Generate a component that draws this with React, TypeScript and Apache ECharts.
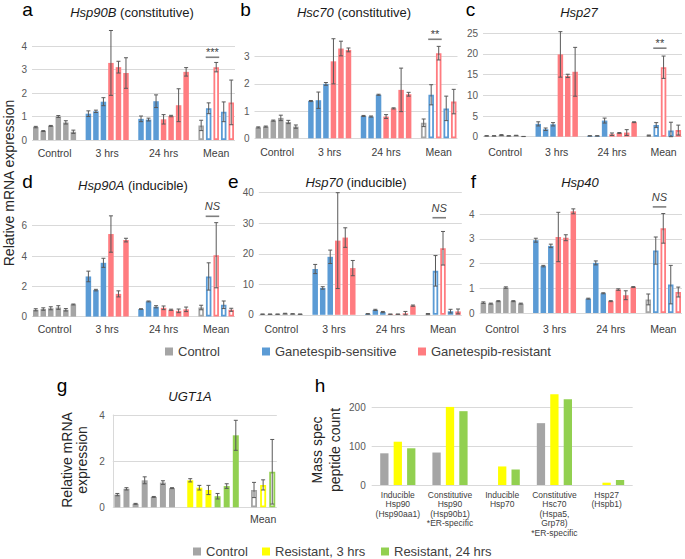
import React, { useEffect, useRef } from "react";
import * as echarts from "echarts";

// ---------------- DATA ----------------
// Panels a–f: bar order = Control (6) | Sensitive 3 h (3), 24 h (3) | Resistant 3 h (3), 24 h (4) | Mean (5)
const groupLabels = ["Control", "3 hrs", "24 hrs", "Mean"];
const meanLabel = "Mean";

// a  Hsp90B
const hsp90bControl = [0.55, 0.38, 0.6, 1.0, 0.75, 0.35];
const hsp90bControlErr = [0.03, 0.02, 0.02, 0.04, 0.07, 0.07];
const hsp90bSensitive = [1.12, 1.22, 1.63, 0.9, 0.87, 1.65];
const hsp90bSensitiveErr = [0.12, 0.05, 0.17, 0.12, 0.06, 0.27];
const hsp90bResistant = [3.28, 3.1, 2.85, 0.88, 1.02, 1.48, 2.9];
const hsp90bResistantErr = [1.38, 0.25, 0.65, 0.2, 0.03, 0.7, 0.18];
const hsp90bMean = [0.62, 1.35, 3.1, 1.2, 1.6];
const hsp90bMeanErr = [0.22, 0.23, 0.2, 0.42, 0.95];

// b  Hsc70
const hsc70Control = [0.4, 0.43, 0.65, 0.75, 0.6, 0.43];
const hsc70ControlErr = [0.02, 0.02, 0.02, 0.1, 0.06, 0.06];
const hsc70Sensitive = [1.37, 1.4, 2.0, 0.82, 0.8, 1.6];
const hsc70SensitiveErr = [0.02, 0.3, 0.05, 0.02, 0.02, 0.02];
const hsc70Resistant = [2.83, 3.3, 3.25, 0.8, 1.1, 1.78, 1.62];
const hsc70ResistantErr = [0.83, 0.27, 0.07, 0.07, 0.02, 0.8, 0.07];
const hsc70Mean = [0.57, 1.6, 3.13, 1.1, 1.35];
const hsc70MeanErr = [0.14, 0.37, 0.25, 0.45, 0.45];

// c  Hsp27
const hsp27Control = [0.2, 0.2, 0.4, 0.2, 0.3, 0.05];
const hsp27ControlErr = [0.05, 0.05, 0.1, 0.05, 0.05, 0.02];
const hsp27Sensitive = [3.1, 1.8, 3.0, 0.2, 0.2, 3.9];
const hsp27SensitiveErr = [0.5, 0.3, 0.4, 0.05, 0.05, 0.6];
const hsp27Resistant = [19.9, 14.7, 15.7, 0.6, 0.9, 1.0, 3.5];
const hsp27ResistantErr = [5.5, 0.4, 5.9, 0.3, 0.1, 0.7, 0.1];
const hsp27Mean = [0.3, 2.8, 16.8, 1.5, 1.6];
const hsp27MeanErr = [0.1, 0.6, 2.7, 2.0, 1.2];

// d  Hsp90A
const hsp90aControl = [0.45, 0.5, 0.55, 0.6, 0.45, 0.8];
const hsp90aControlErr = [0.07, 0.08, 0.1, 0.12, 0.08, 0.03];
const hsp90aSensitive = [2.65, 1.75, 3.55, 0.5, 1.0, 0.65];
const hsp90aSensitiveErr = [0.35, 0.05, 0.3, 0.02, 0.03, 0.07];
const hsp90aResistant = [5.45, 1.5, 5.05, 0.58, 0.45, 0.38, 0.48];
const hsp90aResistantErr = [1.2, 0.2, 0.12, 0.12, 0.04, 0.12, 0.15];
const hsp90aMean = [0.6, 2.65, 4.05, 0.78, 0.45];
const hsp90aMeanErr = [0.15, 0.9, 2.15, 0.25, 0.1];

// e  Hsp70
const hsp70Control = [0.2, 0.2, 0.2, 0.4, 0.3, 0.2];
const hsp70ControlErr = [0.05, 0.05, 0.05, 0.1, 0.05, 0.05];
const hsp70Sensitive = [15.0, 8.8, 19.0, 0.3, 1.6, 0.9];
const hsp70SensitiveErr = [1.5, 0.4, 2.2, 0.1, 0.2, 0.2];
const hsp70Resistant = [24.3, 25.3, 15.3, 0.2, 0.2, 0.5, 3.0];
const hsp70ResistantErr = [15.7, 3.2, 2.5, 0.05, 0.05, 0.6, 0.2];
const hsp70Mean = [0.3, 14.4, 21.8, 1.2, 1.1];
const hsp70MeanErr = [0.1, 5.0, 5.5, 0.6, 0.8];

// f  Hsp40
const hsp40Control = [0.42, 0.38, 0.48, 1.03, 0.48, 0.38];
const hsp40ControlErr = [0.03, 0.02, 0.02, 0.03, 0.02, 0.02];
const hsp40Sensitive = [2.95, 1.9, 2.72, 0.58, 2.03, 0.8];
const hsp40SensitiveErr = [0.08, 0.03, 0.07, 0.02, 0.08, 0.02];
const hsp40Resistant = [3.08, 3.05, 4.12, 0.48, 0.95, 0.72, 1.05];
const hsp40ResistantErr = [1.0, 0.12, 0.1, 0.02, 0.03, 0.18, 0.02];
const hsp40Mean = [0.55, 2.53, 3.43, 1.15, 0.85];
const hsp40MeanErr = [0.22, 0.55, 0.6, 0.78, 0.2];

// significance labels (a–f)
const sigLabels = ["***", "**", "**", "NS", "NS", "NS"];
const sigLevels = [3.52, 3.64, 21.4, 6.62, 31.8, 4.3];

// g  UGT1A
const ugtControl = [0.55, 0.8, 0.15, 1.17, 0.45, 1.07, 0.83];
const ugtControlErr = [0.05, 0.05, 0.02, 0.15, 0.02, 0.08, 0.02];
const ugtRes3 = [1.17, 0.85, 0.75];
const ugtRes3Err = [0.07, 0.1, 0.2];
const ugtRes24 = [0.48, 0.92, 3.12];
const ugtRes24Err = [0.12, 0.1, 0.65];
const ugtMean = [0.75, 0.97, 1.54];
const ugtMeanErr = [0.33, 0.22, 1.4];

// h  Mass spec
const hCategories = [
  "Inducible\nHsp90\n(Hsp90aa1)",
  "Constitutive\nHsp90\n(Hsp90b1)\n*ER-specific",
  "Inducible\nHsp70",
  "Constitutive\nHsc70\n(Hspa5,\nGrp78)\n*ER-specific",
  "Hsp27\n(Hspb1)",
];
const hControl = [82, 84, 0, 160, 0];
const hRes3 = [112, 202, 48, 235, 6];
const hRes24 = [95, 191, 40, 222, 13];

// ---------------- STYLE / LAYOUT ----------------
const FONT = '"Liberation Sans", Arial, Helvetica, sans-serif';
const GREY = "#a5a5a5";
const BLUE = "#5b9bd5";
const RED = "#ff7c80";
const YELLOW = "#ffff00";
const GREEN = "#92d050";
const ERRC = "#595959";
const GRIDC = "#d9d9d9";
const TXT = "#404040";
const TITLE = "#1a1a1a";

const CONTROL_SLOTS = [0, 1, 2, 3, 4, 5];
const SENS_SLOTS = [7, 8, 9, 14, 15, 16];
const RES_SLOTS = [10, 11, 12, 17, 18, 19, 20];
const MEAN_SLOTS = [22, 23, 24, 25, 26];
const GROUP_AT = [3, 10, 17.5, 24.5];
const SLOT_COUNT = 27;

const G_CONTROL_SLOTS = [0, 1, 2, 3, 4, 5, 6];
const G_RES3_SLOTS = [8, 9, 10];
const G_RES24_SLOTS = [11, 12, 13];
const G_MEAN_SLOTS = [15, 16, 17];
const G_MEAN_AT = 16.5;
const G_SLOT_COUNT = 18;

const panelData = [
  { c: hsp90bControl, ce: hsp90bControlErr, s: hsp90bSensitive, se: hsp90bSensitiveErr, r: hsp90bResistant, re: hsp90bResistantErr, m: hsp90bMean, me: hsp90bMeanErr },
  { c: hsc70Control, ce: hsc70ControlErr, s: hsc70Sensitive, se: hsc70SensitiveErr, r: hsc70Resistant, re: hsc70ResistantErr, m: hsc70Mean, me: hsc70MeanErr },
  { c: hsp27Control, ce: hsp27ControlErr, s: hsp27Sensitive, se: hsp27SensitiveErr, r: hsp27Resistant, re: hsp27ResistantErr, m: hsp27Mean, me: hsp27MeanErr },
  { c: hsp90aControl, ce: hsp90aControlErr, s: hsp90aSensitive, se: hsp90aSensitiveErr, r: hsp90aResistant, re: hsp90aResistantErr, m: hsp90aMean, me: hsp90aMeanErr },
  { c: hsp70Control, ce: hsp70ControlErr, s: hsp70Sensitive, se: hsp70SensitiveErr, r: hsp70Resistant, re: hsp70ResistantErr, m: hsp70Mean, me: hsp70MeanErr },
  { c: hsp40Control, ce: hsp40ControlErr, s: hsp40Sensitive, se: hsp40SensitiveErr, r: hsp40Resistant, re: hsp40ResistantErr, m: hsp40Mean, me: hsp40MeanErr },
];

const panelLayout = [
  { letter: "a", title: "{i|Hsp90B} (constitutive)", grid: { left: 32, top: 46, width: 203, height: 94 }, max: 4, interval: 1, margin: 7, lx: 27.5, ly: 9.8, tx: 132, ty: 12.3 },
  { letter: "b", title: "{i|Hsc70} (constitutive)", grid: { left: 254.5, top: 56.7, width: 203, height: 81.6 }, max: 3, interval: 1, margin: 8.5, lx: 245.5, ly: 9.8, tx: 354, ty: 12.3 },
  { letter: "c", title: "{i|Hsp27}", grid: { left: 483, top: 33.3, width: 201, height: 103.4 }, max: 25, interval: 5, margin: 10, lx: 470.5, ly: 9.8, tx: 579, ty: 12 },
  { letter: "d", title: "{i|Hsp90A} (inducible)", grid: { left: 32, top: 225.7, width: 203, height: 90.9 }, max: 6, interval: 2, margin: 7, lx: 27.5, ly: 181.7, tx: 133, ty: 185.7 },
  { letter: "e", title: "{i|Hsp70} (inducible)", grid: { left: 258.8, top: 192.7, width: 203, height: 122.1 }, max: 40, interval: 10, margin: 8.5, lx: 233.3, ly: 181.7, tx: 356, ty: 182.3 },
  { letter: "f", title: "{i|Hsp40}", grid: { left: 479.6, top: 214.3, width: 203, height: 98.7 }, max: 4, interval: 1, margin: 10, lx: 473.3, ly: 181.7, tx: 580, ty: 182.7 },
];

const hollow = (color: string) => ({ color: "#ffffff", borderColor: color, borderWidth: 1.8 });

const errRender = (params: any, api: any) => {
  const x = api.value(0);
  const y = api.value(1);
  const e = api.value(2);
  if (!e) return null;
  const top = api.coord([x, y + e]);
  const bot = api.coord([x, Math.max(0, y - e)]);
  const cap = 2;
  const st = { stroke: ERRC, lineWidth: 1 };
  return {
    type: "group",
    children: [
      { type: "line", shape: { x1: top[0], y1: top[1], x2: bot[0], y2: bot[1] }, style: st },
      { type: "line", shape: { x1: top[0] - cap, y1: top[1], x2: top[0] + cap, y2: top[1] }, style: st },
      { type: "line", shape: { x1: bot[0] - cap, y1: bot[1], x2: bot[0] + cap, y2: bot[1] }, style: st },
    ],
  };
};

function buildOption() {
  const grids: any[] = [];
  const xAxes: any[] = [];
  const yAxes: any[] = [];
  const series: any[] = [];
  const graphics: any[] = [];

  const yAxisBase = (i: number, max: number, interval: number, extra: any = {}) => ({
    gridIndex: i,
    type: "value",
    min: 0,
    max,
    interval,
    axisLine: { show: false },
    axisTick: { show: false },
    splitLine: { lineStyle: { color: GRIDC, width: 1 } },
    axisLabel: { fontSize: 10, color: "#595959", fontFamily: FONT, margin: 5 },
    ...extra,
  });

  panelLayout.forEach((L, i) => {
    const d = panelData[i];
    grids.push({ ...L.grid, containLabel: false });
    xAxes.push({
      gridIndex: i,
      type: "value",
      min: 0,
      max: SLOT_COUNT,
      interval: 0.5,
      axisLine: { show: false },
      axisTick: { show: false },
      splitLine: { show: false },
      axisLabel: {
        margin: L.margin,
        fontSize: 10.5,
        color: TXT,
        fontFamily: FONT,
        showMinLabel: true,
        showMaxLabel: true,
        formatter: (v: number) => {
          const k = GROUP_AT.findIndex((p) => Math.abs(p - v) < 1e-6);
          return k >= 0 ? groupLabels[k] : "";
        },
      },
    });
    yAxes.push(yAxisBase(i, L.max, L.interval));

    const mk = (name: string, color: string, slots: number[], vals: number[], meanIdx: number[]) => ({
      type: "bar",
      name,
      xAxisIndex: i,
      yAxisIndex: i,
      barWidth: 5.5,
      barGap: "-100%",
      clip: false,
      itemStyle: { color },
      data: [
        ...slots.map((s, k) => [s + 0.5, vals[k]]),
        ...meanIdx.map((m) => ({ value: [MEAN_SLOTS[m] + 0.5, d.m[m]], itemStyle: hollow(color) })),
      ],
    });
    series.push(mk("Control", GREY, CONTROL_SLOTS, d.c, [0]));
    series.push(mk("Ganetespib-sensitive", BLUE, SENS_SLOTS, d.s, [1, 3]));
    series.push(mk("Ganetespib-resistant", RED, RES_SLOTS, d.r, [2, 4]));

    const errData: number[][] = [];
    CONTROL_SLOTS.forEach((s, k) => errData.push([s + 0.5, d.c[k], d.ce[k]]));
    SENS_SLOTS.forEach((s, k) => errData.push([s + 0.5, d.s[k], d.se[k]]));
    RES_SLOTS.forEach((s, k) => errData.push([s + 0.5, d.r[k], d.re[k]]));
    MEAN_SLOTS.forEach((s, k) => errData.push([s + 0.5, d.m[k], d.me[k]]));
    series.push({
      type: "custom",
      xAxisIndex: i,
      yAxisIndex: i,
      clip: false,
      silent: true,
      z: 5,
      encode: { x: 0, y: 1 },
      data: errData,
      renderItem: errRender,
    });

    const label = sigLabels[i];
    const isNS = label === "NS";
    series.push({
      type: "custom",
      xAxisIndex: i,
      yAxisIndex: i,
      clip: false,
      silent: true,
      z: 6,
      encode: { x: [0, 1], y: 2 },
      data: [[MEAN_SLOTS[1] + 0.1, MEAN_SLOTS[2] + 0.9, sigLevels[i]]],
      renderItem: (params: any, api: any) => {
        const p1 = api.coord([api.value(0), api.value(2)]);
        const p2 = api.coord([api.value(1), api.value(2)]);
        return {
          type: "group",
          children: [
            { type: "line", shape: { x1: p1[0], y1: p1[1], x2: p2[0], y2: p2[1] }, style: { stroke: "#7f7f7f", lineWidth: 1.6 } },
            {
              type: "text",
              x: (p1[0] + p2[0]) / 2,
              y: p1[1] - (isNS ? 10 : 5),
              style: {
                text: label,
                fontSize: 11,
                fontStyle: isNS ? "italic" : "normal",
                fontWeight: "normal",
                fontFamily: FONT,
                fill: "#404040",
                align: "center",
                verticalAlign: "middle",
              },
            },
          ],
        };
      },
    });

    graphics.push({
      type: "text",
      x: L.lx,
      y: L.ly,
      style: { text: L.letter, fontSize: 19, fontWeight: "normal", fontFamily: FONT, fill: "#000", align: "center", verticalAlign: "middle" },
    });
    graphics.push({
      type: "text",
      x: L.tx,
      y: L.ty,
      style: {
        text: L.title,
        fontSize: 13,
        fontWeight: "normal",
        fontFamily: FONT,
        fill: TITLE,
        align: "center",
        verticalAlign: "middle",
        rich: { i: { fontStyle: "italic", fontWeight: "normal", fontSize: 13, fontFamily: FONT, fill: TITLE } },
      },
    });
  });

  // ---- panel g ----
  const gi = 6;
  grids.push({ left: 112.8, top: 415, width: 164, height: 92.3 });
  xAxes.push({
    gridIndex: gi,
    type: "value",
    min: 0,
    max: G_SLOT_COUNT,
    interval: 0.5,
    axisLine: { show: false },
    axisTick: { show: false },
    splitLine: { show: false },
    axisLabel: {
      margin: 6.5,
      fontSize: 10.5,
      color: TXT,
      fontFamily: FONT,
      formatter: (v: number) => (Math.abs(v - G_MEAN_AT) < 1e-6 ? meanLabel : ""),
    },
  });
  yAxes.push(yAxisBase(gi, 4, 2, { axisLine: { show: true, lineStyle: { color: GRIDC } }, axisLabel: { fontSize: 10, color: "#595959", fontFamily: FONT, margin: 8 } }));
  const gBar = (name: string, color: string, slots: number[], vals: number[], meanIdx: number) => ({
    type: "bar",
    name,
    xAxisIndex: gi,
    yAxisIndex: gi,
    barWidth: 6,
    barGap: "-100%",
    clip: false,
    itemStyle: { color },
    data: [
      ...slots.map((s, k) => [s + 0.5, vals[k]]),
      { value: [G_MEAN_SLOTS[meanIdx] + 0.5, ugtMean[meanIdx]], itemStyle: hollow(color) },
    ],
  });
  series.push(gBar("Control", GREY, G_CONTROL_SLOTS, ugtControl, 0));
  series.push(gBar("Resistant, 3 hrs", YELLOW, G_RES3_SLOTS, ugtRes3, 1));
  series.push(gBar("Resistant, 24 hrs", GREEN, G_RES24_SLOTS, ugtRes24, 2));
  const gErr: number[][] = [];
  G_CONTROL_SLOTS.forEach((s, k) => gErr.push([s + 0.5, ugtControl[k], ugtControlErr[k]]));
  G_RES3_SLOTS.forEach((s, k) => gErr.push([s + 0.5, ugtRes3[k], ugtRes3Err[k]]));
  G_RES24_SLOTS.forEach((s, k) => gErr.push([s + 0.5, ugtRes24[k], ugtRes24Err[k]]));
  G_MEAN_SLOTS.forEach((s, k) => gErr.push([s + 0.5, ugtMean[k], ugtMeanErr[k]]));
  series.push({ type: "custom", xAxisIndex: gi, yAxisIndex: gi, clip: false, silent: true, z: 5, encode: { x: 0, y: 1 }, data: gErr, renderItem: errRender });

  // ---- panel h ----
  const hi = 7;
  grids.push({ left: 371.7, top: 407.7, width: 261, height: 77.3 });
  xAxes.push({
    gridIndex: hi,
    type: "category",
    data: hCategories,
    axisLine: { show: false },
    axisTick: { show: false },
    axisLabel: { interval: 0, fontSize: 8.5, lineHeight: 9.5, color: TXT, fontFamily: FONT, margin: 5 },
  });
  yAxes.push(yAxisBase(hi, 200, 100, { axisLabel: { fontSize: 10, color: "#595959", fontFamily: FONT, margin: 6 } }));
  const hBar = (name: string, color: string, vals: number[]) => ({
    type: "bar",
    name,
    xAxisIndex: hi,
    yAxisIndex: hi,
    barWidth: 8.3,
    barGap: "62%",
    clip: false,
    itemStyle: { color },
    data: vals,
  });
  series.push(hBar("Control", GREY, hControl));
  series.push(hBar("Resistant, 3 hrs", YELLOW, hRes3));
  series.push(hBar("Resistant, 24 hrs", GREEN, hRes24));

  // ---- texts ----
  graphics.push({
    type: "text",
    x: 9,
    y: 183,
    rotation: Math.PI / 2,
    style: { text: "Relative mRNA expression", fontSize: 14, fontFamily: FONT, fill: "#262626", align: "center", verticalAlign: "middle" },
  });
  graphics.push({
    type: "text",
    x: 74,
    y: 460,
    rotation: Math.PI / 2,
    style: { text: "Relative mRNA\nexpression", fontSize: 14, lineHeight: 15, fontFamily: FONT, fill: "#262626", align: "center", verticalAlign: "middle" },
  });
  graphics.push({
    type: "text",
    x: 326,
    y: 450,
    rotation: Math.PI / 2,
    style: { text: "Mass spec\npeptide count", fontSize: 14, lineHeight: 18, fontFamily: FONT, fill: "#262626", align: "center", verticalAlign: "middle" },
  });
  graphics.push({ type: "text", x: 62, y: 385, style: { text: "g", fontSize: 19, fontFamily: FONT, fill: "#000", align: "center", verticalAlign: "middle" } });
  graphics.push({ type: "text", x: 320, y: 385, style: { text: "h", fontSize: 19, fontFamily: FONT, fill: "#000", align: "center", verticalAlign: "middle" } });
  graphics.push({
    type: "text",
    x: 190,
    y: 396,
    style: { text: "UGT1A", fontSize: 13, fontStyle: "italic", fontWeight: "normal", fontFamily: FONT, fill: TITLE, align: "center", verticalAlign: "middle" },
  });

  const legendBase = {
    icon: "rect",
    itemWidth: 8,
    itemHeight: 8,
    padding: 0,
    selectedMode: false,
    textStyle: { fontSize: 13, color: TXT, fontFamily: FONT },
  };
  const legends = [
    { data: ["Control"], left: 165, top: 345 },
    { data: ["Ganetespib-sensitive"], left: 262, top: 345 },
    { data: ["Ganetespib-resistant"], left: 418, top: 345 },
    { data: ["Control"], left: 193, top: 545 },
    { data: ["Resistant, 3 hrs"], left: 262, top: 545 },
    { data: ["Resistant, 24 hrs"], left: 381, top: 545 },
  ].map((l) => ({ ...legendBase, ...l }));

  return {
    animation: false,
    backgroundColor: "#ffffff",
    textStyle: { fontFamily: FONT },
    grid: grids,
    xAxis: xAxes,
    yAxis: yAxes,
    legend: legends,
    series,
    graphic: graphics,
  };
}

export default function App() {
  const ref = useRef<HTMLDivElement>(null);
  useEffect(() => {
    if (!ref.current) return;
    const chart = echarts.init(ref.current, null, { renderer: "svg" });
    chart.setOption(buildOption() as any);
    return () => chart.dispose();
  }, []);
  return (
    <div
      ref={ref}
      style={{ position: "fixed", left: 0, top: 0, width: 685, height: 559, background: "#fff" }}
    />
  );
}
